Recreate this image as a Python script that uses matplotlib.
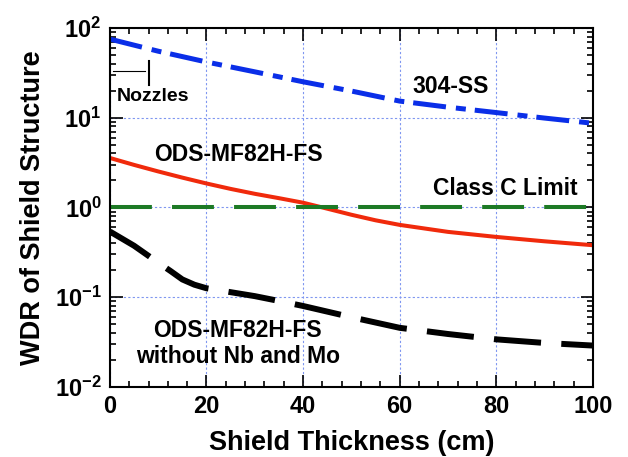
import numpy as np
import matplotlib
matplotlib.use('Agg')
import matplotlib.pyplot as plt
from matplotlib.ticker import FixedLocator, MultipleLocator, FixedFormatter

plt.rcParams['font.family'] = ['Liberation Sans', 'DejaVu Sans']
plt.rcParams['font.weight'] = 'bold'
plt.rcParams['mathtext.fontset'] = 'custom'
plt.rcParams['mathtext.rm'] = 'Liberation Sans:bold'
plt.rcParams['mathtext.it'] = 'Liberation Sans:bold'
plt.rcParams['mathtext.bf'] = 'Liberation Sans:bold'

# data
x_304ss = [0, 10, 20, 30, 40, 50, 60, 70, 80, 90, 100]
wdr_304ss = [75, 55, 41.7, 32.4, 25.1, 19.8, 15.3, 13.1, 11.4, 9.9, 8.66]

x_ods = [0, 5, 10, 15, 20, 25, 30, 35, 40, 45, 50, 55, 60, 70, 80, 90, 100]
wdr_ods = [3.56, 2.98, 2.52, 2.15, 1.85, 1.61, 1.42, 1.27, 1.13, 0.97, 0.83,
           0.72, 0.64, 0.535, 0.47, 0.42, 0.38]

x_ods_nonbmo = [0, 5, 10, 12.5, 15, 17.5, 20, 25, 30, 35, 40, 50, 60, 70, 80, 90, 100]
wdr_ods_nonbmo = [0.54, 0.375, 0.243, 0.197, 0.158, 0.138, 0.126, 0.114, 0.103,
                  0.091, 0.080, 0.060, 0.0457, 0.039, 0.034, 0.031, 0.029]

class_c = 1.0

x_ticks = [0, 20, 40, 60, 80, 100]
y_ticks = [1e-2, 1e-1, 1e0, 1e1, 1e2]
y_tick_labels = ['$10^{-2}$', '$10^{-1}$', '$10^{0}$', '$10^{1}$', '$10^{2}$']

fig = plt.figure(figsize=(6.28, 4.57), dpi=100)
ax = fig.add_axes([0.175, 0.153, 0.769, 0.786])

ax.plot(x_304ss, wdr_304ss, color='#0a2ee8', lw=3.6, dashes=(6.6, 2, 2, 1.8))
ax.plot(x_ods, wdr_ods, color='#f02a0c', lw=2.9)
ax.axhline(class_c, color='#1d7a25', lw=2.9, dashes=(10.4, 5))
ax.plot(x_ods_nonbmo, wdr_ods_nonbmo, color='black', lw=4.3, dashes=(7.9, 3.4))

# nozzles marker
ax.plot([0.6, 7.2], [32.7, 32.7], color='black', lw=0.8)
ax.plot([8, 8], [23.3, 43], color='black', lw=1.5)
ax.text(1.5, 17, 'Nozzles', fontsize=14, va='center', ha='left')

ax.text(70.6, 22, '304-SS', fontsize=16.5, ha='center', va='center')
ax.text(26.7, 3.85, 'ODS-MF82H-FS', fontsize=16.5, ha='center', va='center')
ax.text(81.8, 1.61, 'Class C Limit', fontsize=16.5, ha='center', va='center')
ax.text(26.5, 0.0305, 'ODS-MF82H-FS\nwithout Nb and Mo', fontsize=16.5,
        ha='center', va='center', linespacing=1.15)

ax.set_yscale('log')
ax.set_xlim(0, 100)
ax.set_ylim(1e-2, 1e2)
ax.xaxis.set_major_locator(FixedLocator(x_ticks))
ax.xaxis.set_minor_locator(MultipleLocator(4))
ax.yaxis.set_major_locator(FixedLocator(y_ticks))
ax.yaxis.set_major_formatter(FixedFormatter(y_tick_labels))
ax.tick_params(which='both', direction='in', top=True, right=True, width=1.2)
ax.tick_params(which='major', length=9, labelsize=17, pad=6)
ax.tick_params(which='minor', length=4.5)
for s in ax.spines.values():
    s.set_linewidth(1.5)

ax.grid(True, which='major', color='#7f96f0', ls=(0, (2, 2)), lw=0.8)

ax.set_xlabel('Shield Thickness (cm)', fontsize=19.5, fontweight='bold', labelpad=8)
ax.set_ylabel('WDR of Shield Structure', fontsize=19.5, fontweight='bold', labelpad=6)

fig.savefig('out.png', dpi=100)
